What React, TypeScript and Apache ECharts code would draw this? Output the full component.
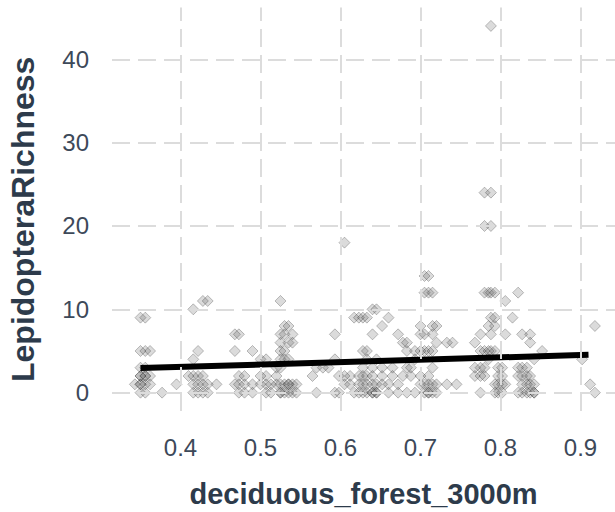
import React, { useEffect, useRef } from "react";
import * as echarts from "echarts";

// Sites: forest fraction (x) and observed LepidopteraRichness values (y) at that site
const siteX: number[] = [
  0.343, 0.35, 0.356, 0.362, 0.377, 0.395, 0.41, 0.416, 0.422, 0.428, 0.434, 0.445,
  0.468, 0.473, 0.48, 0.49, 0.5, 0.507, 0.513, 0.52, 0.525, 0.53, 0.535, 0.54, 0.545,
  0.565, 0.57, 0.578, 0.585, 0.593, 0.598, 0.605, 0.612, 0.617, 0.623, 0.628, 0.633,
  0.64, 0.645, 0.652, 0.66, 0.665, 0.672, 0.678, 0.683, 0.688, 0.693, 0.7, 0.705,
  0.71, 0.715, 0.72, 0.733, 0.74, 0.745, 0.768, 0.775, 0.78, 0.785, 0.788, 0.793,
  0.797, 0.802, 0.806, 0.815, 0.822, 0.827, 0.833, 0.837, 0.842, 0.852, 0.902, 0.912,
  0.918,
];
const siteRichness: number[][] = [
  [1], [9, 5, 3, 2, 1, 0, 1, 2], [9, 5, 3, 2, 2, 1, 0], [5, 1, 2], [0], [1], [2],
  [10, 4, 2, 1, 0], [5, 2, 1, 0], [11, 1, 0, 2], [11, 1, 0], [1],
  [7, 5, 1], [7, 1, 2, 0], [2, 1, 0], [5, 1, 0], [4, 2, 1], [4, 2, 1, 0], [1, 0], [3, 2, 1],
  [11, 7, 6, 5, 4, 3, 0, 1, 0], [8, 7, 5, 4, 1, 0], [8, 6, 4, 1, 0, 1], [7, 6, 1, 0], [1, 0],
  [2], [0, 3], [3], [3], [7, 4, 0], [2, 0], [18, 2, 1], [1, 2], [9, 0], [9, 2, 1, 0],
  [9, 5, 2, 1, 0, 3], [9, 5, 2, 1, 0, 4],
  [10, 7, 2, 1, 0, 0, 3], [10, 4, 1, 0, 0], [8, 3, 2, 1], [9, 1, 0], [3, 2], [7, 1, 0], [6, 2],
  [6, 5, 3, 0], [3, 2], [5, 4, 0], [8, 7, 5, 2, 1], [14, 12, 7, 5, 1, 0],
  [14, 12, 5, 2, 1, 0, 0], [12, 8, 7, 5, 3, 1, 0], [8, 6, 1, 0], [6, 1], [6], [1],
  [6, 3, 2], [7, 5, 3, 2, 0], [24, 20, 12, 5, 3, 2], [12, 8, 5, 4], [44, 24, 20, 12, 9, 7, 5],
  [12, 9, 8, 5, 1, 0], [3, 2, 1, 0], [3, 2, 1, 0], [11, 7, 1], [9], [12, 3, 2, 0],
  [7, 3, 2, 1, 0], [3, 2, 1, 0], [7, 6, 2, 1, 0], [4, 1, 0, 0], [5], [4], [1],
  [8, 0],
];

// Linear fit endpoints
const fitX: number[] = [0.35, 0.91];
const fitY: number[] = [2.95, 4.55];

const xTicks: number[] = [0.4, 0.5, 0.6, 0.7, 0.8, 0.9];
const yTicks: number[] = [0, 10, 20, 30, 40];

const xTitle = "deciduous_forest_3000m";
const yTitle = "LepidopteraRichness";

export default function App() {
  const ref = useRef<HTMLDivElement>(null);

  useEffect(() => {
    if (!ref.current) return;
    const chart = echarts.init(ref.current, undefined, { renderer: "svg" });

    const points: number[][] = [];
    siteX.forEach((x, i) => {
      siteRichness[i].forEach((y) => points.push([x, y]));
    });

    const gridLine = { type: [18, 8] as any, color: "#dcdcdc", width: 2 };
    const tickColor = "#3d4959";
    const titleColor = "#2d3b4b";
    const font = "'Liberation Sans', Arial, sans-serif";

    chart.setOption({
      animation: false,
      backgroundColor: "#ffffff",
      grid: {
        left: 112,
        right: 0,
        top: 7.6,
        bottom: 101,
        containLabel: false,
        outerBoundsMode: "none",
      },
      xAxis: {
        type: "value",
        min: 0.3144,
        max: 0.9431,
        name: xTitle,
        nameLocation: "middle",
        nameGap: 68,
        nameTextStyle: { fontSize: 29, fontWeight: "bold", color: titleColor, fontFamily: font },
        axisLine: { show: false },
        axisTick: { show: false, customValues: xTicks },
        splitLine: { show: false },
        axisLabel: {
          customValues: xTicks,
          fontSize: 24,
          color: tickColor,
          fontFamily: font,
          margin: 24,
          formatter: (v: number) => v.toFixed(1),
        },
      },
      yAxis: {
        type: "value",
        min: -2.2,
        max: 46.2,
        name: yTitle,
        nameLocation: "middle",
        nameGap: 73,
        nameRotate: 90,
        nameTextStyle: {
          fontSize: 32,
          fontWeight: "bold",
          color: titleColor,
          fontFamily: font,
          padding: [0, 20, 0, 0],
        },
        axisLine: { show: false },
        axisTick: { show: false, customValues: yTicks },
        splitLine: { show: false },
        axisLabel: {
          customValues: yTicks,
          fontSize: 24,
          color: tickColor,
          fontFamily: font,
          margin: 23,
        },
      },
      series: [
        {
          type: "scatter",
          data: [],
          z: 0,
          silent: true,
          markLine: {
            silent: true,
            symbol: ["none", "none"],
            label: { show: false },
            lineStyle: gridLine,
            emphasis: { disabled: true },
            data: [
              ...xTicks.map((v) => ({ xAxis: v })),
              ...yTicks.map((v) => ({ yAxis: v })),
            ],
          },
        },
        {
          type: "scatter",
          data: points,
          symbol: "diamond",
          symbolSize: 11,
          z: 2,
          itemStyle: {
            color: "rgba(70,70,70,0.24)",
            borderColor: "rgba(0,0,0,0.3)",
            borderWidth: 1,
          },
        },
        {
          type: "line",
          data: fitX.map((x, i) => [x, fitY[i]]),
          symbol: "none",
          z: 3,
          lineStyle: { color: "#000000", width: 6 },
        },
      ],
    });

    return () => chart.dispose();
  }, []);

  return (
    <div
      ref={ref}
      style={{ position: "fixed", left: 0, top: 0, width: 615, height: 512, background: "#fff" }}
    />
  );
}
